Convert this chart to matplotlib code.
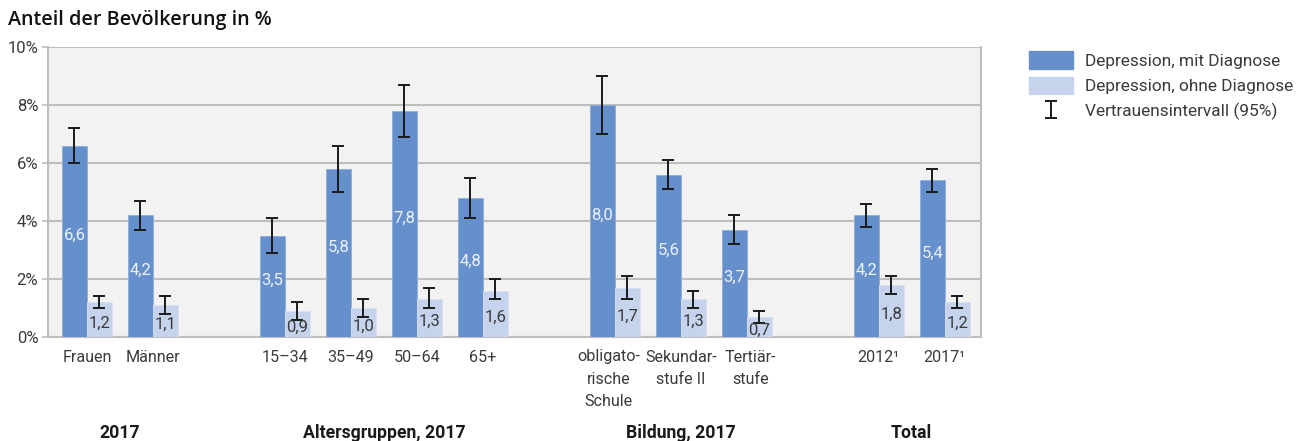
import numpy as np
import matplotlib
matplotlib.use("Agg")
import matplotlib.pyplot as plt
import matplotlib.transforms as mtransforms
from matplotlib.patches import Patch

plt.rcParams['font.family'] = ['Roboto', 'DejaVu Sans']

# ---- data ----
categories = ["Frauen", "Männer", "15–34", "35–49", "50–64", "65+",
              "obligato-\nrische\nSchule", "Sekundar-\nstufe II", "Tertiär-\nstufe",
              "2012¹", "2017¹"]
slots = [0, 1, 3, 4, 5, 6, 8, 9, 10, 12, 13]

mit_diag = [6.6, 4.2, 3.5, 5.8, 7.8, 4.8, 8.0, 5.6, 3.7, 4.2, 5.4]
mit_lo = [6.0, 3.7, 2.9, 5.0, 6.9, 4.1, 7.0, 5.1, 3.2, 3.8, 5.0]
mit_hi = [7.2, 4.7, 4.1, 6.6, 8.7, 5.5, 9.0, 6.1, 4.2, 4.6, 5.8]

ohne_diag = [1.2, 1.1, 0.9, 1.0, 1.3, 1.6, 1.7, 1.3, 0.7, 1.8, 1.2]
ohne_lo = [1.0, 0.8, 0.6, 0.7, 1.0, 1.3, 1.3, 1.0, 0.5, 1.5, 1.0]
ohne_hi = [1.4, 1.4, 1.2, 1.3, 1.7, 2.0, 2.1, 1.6, 0.9, 2.1, 1.4]

groups = ["2017", "Altersgruppen, 2017", "Bildung, 2017", "Total"]
group_members = [(0, 1), (2, 5), (6, 8), (9, 10)]

yticks = [0, 2, 4, 6, 8, 10]
ytick_labels = ["0%", "2%", "4%", "6%", "8%", "10%"]

title = "Anteil der Bevölkerung in %"
legend_labels = ["Depression, mit Diagnose", "Depression, ohne Diagnose",
                 "Vertrauensintervall (95%)"]

# ---- style ----
c_dark = "#6690CB"
c_light = "#C6D3EC"
c_bg = "#F2F2F2"
c_grid = "#BEBEBE"
c_text = "#3a3a3a"
fs = 11.6

fig = plt.figure(figsize=(13.03, 4.41), dpi=100)
ax = fig.add_axes([48/1303, 1-337/441, (981-48)/1303, (337-47)/441])
ax.set_facecolor(c_bg)

x = np.array(slots, dtype=float)
w = 0.38

mit = np.array(mit_diag); ohne = np.array(ohne_diag)
err_m = [mit - np.array(mit_lo), np.array(mit_hi) - mit]
err_o = [ohne - np.array(ohne_lo), np.array(ohne_hi) - ohne]

ax.bar(x - w/2, mit, w, color=c_dark, edgecolor="#8FAEDB", linewidth=0.6, zorder=3)
ax.bar(x + w/2, ohne, w, color=c_light, edgecolor="#D8E1F2", linewidth=0.6, zorder=3)
ax.errorbar(x - w/2, mit, yerr=err_m, fmt='none', ecolor='#1a1a1a',
            elinewidth=1.4, capsize=4.2, capthick=1.4, zorder=4)
ax.errorbar(x + w/2, ohne, yerr=err_o, fmt='none', ecolor='#1a1a1a',
            elinewidth=1.4, capsize=4.2, capthick=1.4, zorder=4)

for xi, v in zip(x, mit):
    ax.text(xi - w/2, v/2 + 0.2, f"{v:.1f}".replace(".", ","), ha='center', va='center',
            color="#EEF2FA", fontsize=12, zorder=5)
for xi, v in zip(x, ohne):
    ax.text(xi + w/2, v/2 - 0.12, f"{v:.1f}".replace(".", ","), ha='center', va='center',
            color="#3a3a3a", fontsize=12, zorder=5)

ax.set_xlim(-0.59, 13.55)
ax.set_ylim(0, 10)
ax.set_yticks(yticks)
ax.set_yticklabels(ytick_labels, fontsize=12, color=c_text)
ax.yaxis.grid(True, color=c_grid, linewidth=1.5, zorder=0)
ax.set_axisbelow(True)
ax.tick_params(axis='y', length=4, color=c_grid, width=1.2, pad=3)
ax.set_xticks(x)
ax.set_xticklabels(categories, fontsize=fs, color=c_text, linespacing=1.6, va='top')
ax.tick_params(axis='x', length=0, pad=9)

# small horizontal nudges so the multi-line education labels don't touch
nudges = {6: -6, 8: 4}
for i, lab in enumerate(ax.get_xticklabels()):
    if i in nudges:
        lab.set_transform(lab.get_transform() +
                          mtransforms.ScaledTranslation(nudges[i] / 100, 0, fig.dpi_scale_trans))

for s in ["top"]:
    ax.spines[s].set_visible(False)
for s in ["left", "right", "bottom"]:
    ax.spines[s].set_color(c_grid)
    ax.spines[s].set_linewidth(1.5)

# group labels
for g, (a, b) in zip(groups, group_members):
    xc = (slots[a] + slots[b]) / 2
    ax.text(xc, -3.3, g, ha='center', va='center', fontsize=12.7, fontweight='bold',
            color="#1a1a1a", transform=ax.transData, clip_on=False)

fig.text(8/1303, 1-20/441, title, fontsize=14.2, fontweight='semibold', color="#111111",
         ha='left', va='center', family=['Open Sans', 'DejaVu Sans'])

# legend
eb = ax.errorbar([np.nan], [np.nan], yerr=[[1], [1]], fmt='none', ecolor='#1a1a1a',
                 elinewidth=1.4, capsize=4.2, capthick=1.4)
handles = [Patch(color=c_dark), Patch(color=c_light), eb]
leg = fig.legend(handles, legend_labels, loc='upper left',
                 bbox_to_anchor=(1014/1303, 1-36/441), frameon=False,
                 prop={'size': 12.4},
                 handlelength=2.55, handleheight=1.17, labelspacing=0.45, handletextpad=0.65)
for t in leg.get_texts():
    t.set_color(c_text)

fig.savefig("out.png", dpi=100)
